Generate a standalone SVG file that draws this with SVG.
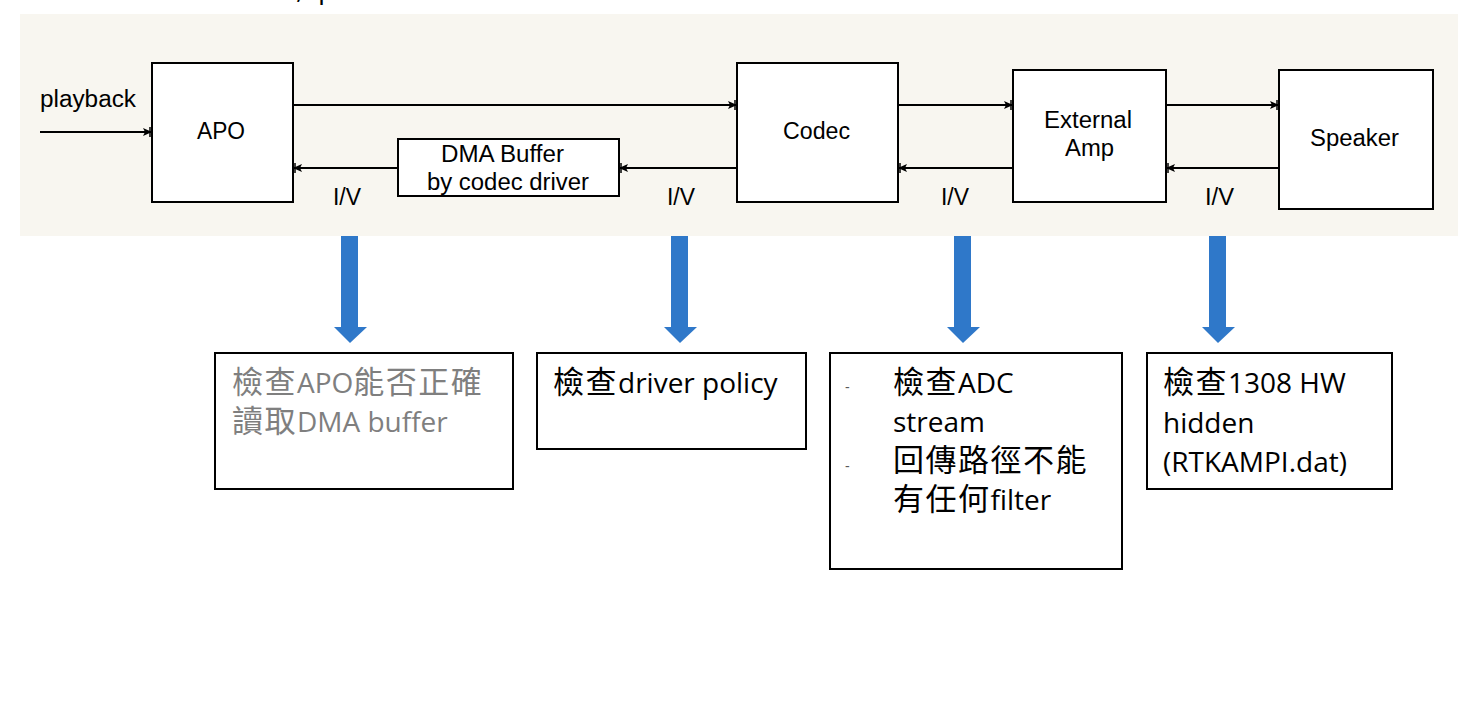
<svg xmlns="http://www.w3.org/2000/svg" width="1471" height="715" viewBox="0 0 1471 715">
<style>
.box{fill:#fff;stroke:#000;stroke-width:2}
.lbl{font-family:"Liberation Sans",Arial,sans-serif;font-size:23px;fill:#000}
.ln{stroke:#000;stroke-width:2;fill:none}
.note{font-family:"Open Sans","Noto Sans CJK TC",sans-serif;font-size:28px;fill:#000}
.cj{font-family:"Noto Sans CJK TC",sans-serif;font-size:31px;letter-spacing:1.5px}
.nbox{fill:#fff;stroke:#000;stroke-width:2}
.blue{fill:#2F78C9}
.dash{font-family:"Liberation Sans",sans-serif;font-size:14px;fill:#595959}
</style>
<defs>
<marker id="ah" markerWidth="12" markerHeight="12" refX="9" refY="6" orient="auto" markerUnits="userSpaceOnUse">
<path d="M0,2 L9,6 L0,10 L2,6 Z" fill="#000"/>
<path d="M7,1 V11" stroke="#000" stroke-width="1.5"/>
</marker>
</defs>
<rect width="1471" height="715" fill="#fff"/>
<text x="296" y="-2" class="note">,</text>
<text x="318" y="-2" class="note">p</text>
<rect x="20" y="14" width="1438" height="222" fill="#F8F6F0"/>

<g id="connectors">
<line class="ln" x1="40" y1="132" x2="152" y2="132" marker-end="url(#ah)"/>
<line class="ln" x1="293" y1="105" x2="737" y2="105" marker-end="url(#ah)"/>
<line class="ln" x1="398" y1="168" x2="293" y2="168" marker-end="url(#ah)"/>
<line class="ln" x1="737" y1="168" x2="619" y2="168" marker-end="url(#ah)"/>
<line class="ln" x1="898" y1="105" x2="1013" y2="105" marker-end="url(#ah)"/>
<line class="ln" x1="1013" y1="168" x2="898" y2="168" marker-end="url(#ah)"/>
<line class="ln" x1="1166" y1="105" x2="1279" y2="105" marker-end="url(#ah)"/>
<line class="ln" x1="1279" y1="168" x2="1166" y2="168" marker-end="url(#ah)"/>
<text class="lbl" x="40" y="107" textLength="96" lengthAdjust="spacingAndGlyphs">playback</text>
<text class="lbl" x="333" y="205" textLength="28" lengthAdjust="spacingAndGlyphs">I/V</text>
<text class="lbl" x="667" y="205" textLength="28" lengthAdjust="spacingAndGlyphs">I/V</text>
<text class="lbl" x="941" y="205" textLength="28" lengthAdjust="spacingAndGlyphs">I/V</text>
<text class="lbl" x="1205" y="205" textLength="29" lengthAdjust="spacingAndGlyphs">I/V</text>
</g>

<g id="apo">
<rect class="box" x="152" y="63" width="141" height="139"/>
<text class="lbl" x="197" y="139" textLength="48" lengthAdjust="spacingAndGlyphs">APO</text>
</g>
<g id="dma">
<rect class="box" x="398" y="139" width="221" height="57"/>
<text class="lbl" x="441" y="162" textLength="123" lengthAdjust="spacingAndGlyphs">DMA Buffer</text>
<text class="lbl" x="427" y="190" textLength="162" lengthAdjust="spacingAndGlyphs">by codec driver</text>
</g>
<g id="codec">
<rect class="box" x="737" y="63" width="161" height="139"/>
<text class="lbl" x="783" y="139" textLength="67" lengthAdjust="spacingAndGlyphs">Codec</text>
</g>
<g id="amp">
<rect class="box" x="1013" y="70" width="153" height="132"/>
<text class="lbl" x="1044" y="128" textLength="88" lengthAdjust="spacingAndGlyphs">External</text>
<text class="lbl" x="1065" y="156" textLength="49" lengthAdjust="spacingAndGlyphs">Amp</text>
</g>
<g id="speaker">
<rect class="box" x="1279" y="70" width="154" height="139"/>
<text class="lbl" x="1310" y="146" textLength="89" lengthAdjust="spacingAndGlyphs">Speaker</text>
</g>

<g id="arrows">
<path class="blue" d="M341,236 H358 V327 H367 L350,343 L334,327 H341 Z"/>
<path class="blue" d="M671,236 H688 V327 H697 L680,343 L664,327 H671 Z"/>
<path class="blue" d="M954,236 H971 V327 H980 L963,343 L947,327 H954 Z"/>
<path class="blue" d="M1209,236 H1226 V327 H1235 L1218,343 L1202,327 H1209 Z"/>
</g>

<g id="note1">
<rect class="nbox" x="215" y="353" width="298" height="136"/>
<text class="note" x="232" y="393" style="fill:#7F7F7F"><tspan class="cj">檢查</tspan>APO<tspan class="cj">能否正確</tspan></text>
<text class="note" x="232" y="432" style="fill:#7F7F7F"><tspan class="cj">讀取</tspan>DMA buffer</text>
</g>
<g id="note2">
<rect class="nbox" x="537" y="353" width="269" height="96"/>
<text class="note" x="553" y="393"><tspan class="cj">檢查</tspan>driver policy</text>
</g>
<g id="note3">
<rect class="nbox" x="830" y="353" width="292" height="216"/>
<text class="dash" x="845" y="392">-</text>
<text class="dash" x="845" y="471">-</text>
<text class="note" x="893" y="393"><tspan class="cj">檢查</tspan>ADC</text>
<text class="note" x="893" y="432">stream</text>
<text class="note" x="893" y="471"><tspan class="cj">回傳路徑不能</tspan></text>
<text class="note" x="893" y="510"><tspan class="cj">有任何</tspan>filter</text>
</g>
<g id="note4">
<rect class="nbox" x="1147" y="353" width="245" height="136"/>
<text class="note" x="1163" y="393"><tspan class="cj">檢查</tspan>1308 HW</text>
<text class="note" x="1163" y="433">hidden</text>
<text class="note" x="1163" y="472">(RTKAMPI.dat)</text>
</g>
</svg>
